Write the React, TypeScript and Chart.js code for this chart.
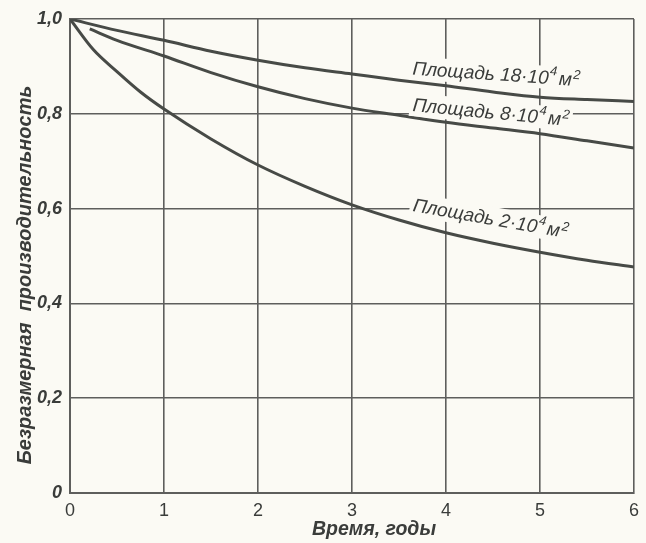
import { useEffect, useRef } from "react";
import { Chart, registerables } from "chart.js";

Chart.register(...registerables);

const years18 = [0, 0.5, 1, 1.5, 2, 2.5, 3, 3.5, 4, 4.5, 5, 5.5, 6];
const values18 = [1.0, 0.976, 0.955, 0.932, 0.913, 0.897, 0.884, 0.871, 0.859, 0.846, 0.835, 0.83, 0.826];

const years8 = [0.21, 0.5, 1, 1.5, 2, 2.5, 3, 3.5, 4, 4.5, 5, 5.5, 6];
const values8 = [0.979, 0.955, 0.922, 0.887, 0.857, 0.832, 0.812, 0.797, 0.782, 0.77, 0.758, 0.743, 0.728];

const years2 = [0, 0.25, 0.5, 0.75, 1, 1.5, 2, 2.5, 3, 3.5, 4, 4.5, 5, 5.5, 6];
const values2 = [1.0, 0.935, 0.889, 0.846, 0.81, 0.747, 0.692, 0.647, 0.608, 0.576, 0.549, 0.527, 0.508, 0.491, 0.477];

const labelMain = ["Площадь 18·10", "Площадь 8·10", "Площадь 2·10"];
const labelExp = ["4", "4", "4"];
const labelUnit = ["м", "м", "м"];
const labelUnitExp = ["2", "2", "2"];
const labelYears = [3.64, 3.64, 3.64];
const labelValues = [0.883, 0.806, 0.595];
const labelAngles = [4, 5.5, 10];

const xTicks = [0, 1, 2, 3, 4, 5, 6];
const yTicks = [0, 0.2, 0.4, 0.6, 0.8, 1.0];

const xTitle = "Время, годы";
const yTitle = "Безразмерная  производительность";

const BG = "#fbfaf4";
const INK = "#474a46";
const GRID = "#5e5e5c";
const TEXT = "#3a3c3a";
const FONT = "'Liberation Sans', 'DejaVu Sans', sans-serif";

function pts(xs: number[], ys: number[]) {
  return xs.map((x, i) => ({ x, y: ys[i] }));
}

const bgPlugin = {
  id: "bg",
  beforeDraw(chart: any) {
    const { ctx, width, height } = chart;
    ctx.save();
    ctx.fillStyle = BG;
    ctx.fillRect(0, 0, width, height);
    ctx.restore();
  },
};

const titlePlugin = {
  id: "titles",
  afterDraw(chart: any) {
    const { ctx, chartArea } = chart;
    ctx.save();
    ctx.fillStyle = TEXT;
    ctx.textAlign = "center";
    ctx.textBaseline = "alphabetic";
    ctx.font = `italic bold 19.5px ${FONT}`;
    ctx.fillText(xTitle, (chartArea.left + chartArea.right) / 2 + 22, chartArea.bottom + 42);
    ctx.translate(chartArea.left - 45, (chartArea.top + chartArea.bottom) / 2 + 19);
    ctx.rotate(-Math.PI / 2);
    ctx.textBaseline = "middle";
    ctx.font = `italic bold 20px ${FONT}`;
    ctx.fillText(yTitle, 0, 0);
    ctx.restore();
  },
};

const labelPlugin = {
  id: "curveLabels",
  afterDatasetsDraw(chart: any) {
    const { ctx, scales } = chart;
    ctx.save();
    labelMain.forEach((txt, i) => {
      const px = scales.x.getPixelForValue(labelYears[i]);
      const py = scales.y.getPixelForValue(labelValues[i]);
      ctx.save();
      ctx.translate(px, py);
      ctx.rotate((labelAngles[i] * Math.PI) / 180);
      const big = `italic 19px ${FONT}`;
      const small = `italic 13px ${FONT}`;
      ctx.font = big;
      const w1 = ctx.measureText(txt).width;
      const wu = ctx.measureText(labelUnit[i]).width;
      ctx.font = small;
      const we = ctx.measureText(labelExp[i]).width;
      const wue = ctx.measureText(labelUnitExp[i]).width;
      const total = w1 + we + 3 + wu + wue + 1;
      ctx.fillStyle = BG;
      ctx.fillRect(-3, -18, total + 6, 23);
      ctx.fillStyle = TEXT;
      ctx.textAlign = "left";
      ctx.textBaseline = "alphabetic";
      let x = 0;
      ctx.font = big;
      ctx.fillText(txt, x, 0);
      x += w1 + 1;
      ctx.font = small;
      ctx.fillText(labelExp[i], x, -9);
      x += we + 2;
      ctx.font = big;
      ctx.fillText(labelUnit[i], x, 0);
      x += wu + 1;
      ctx.font = small;
      ctx.fillText(labelUnitExp[i], x, -7);
      ctx.restore();
    });
    ctx.restore();
  },
};

export default function App() {
  const ref = useRef<HTMLCanvasElement | null>(null);

  useEffect(() => {
    document.body.style.margin = "0";
    const canvas = ref.current;
    if (!canvas) return;
    const lineDs = (data: any) => ({
      data,
      borderColor: INK,
      borderWidth: 3,
      pointRadius: 0,
      fill: false,
      tension: 0.4,
      cubicInterpolationMode: "monotone" as const,
    });
    const chart = new Chart(canvas, {
      type: "line",
      data: {
        datasets: [
          lineDs(pts(years18, values18)),
          lineDs(pts(years8, values8)),
          lineDs(pts(years2, values2)),
        ],
      },
      options: {
        animation: false,
        responsive: false,
        devicePixelRatio: 1,
        layout: { padding: { top: 19, right: 10, left: 0, bottom: 0 } },
        plugins: {
          legend: { display: false },
          tooltip: { enabled: false },
        },
        scales: {
          x: {
            type: "linear",
            min: 0,
            max: 6,
            afterFit(scale: any) {
              scale.height = 50;
            },
            afterBuildTicks(scale: any) {
              scale.ticks = xTicks.map((v) => ({ value: v }));
            },
            grid: { color: GRID, lineWidth: 1.6, drawTicks: false },
            border: { color: GRID, width: 2 },
            ticks: {
              color: TEXT,
              padding: 7,
              font: { family: FONT, size: 18 },
              callback: (v: any) => String(v),
            },
          },
          y: {
            type: "linear",
            min: 0,
            max: 1,
            afterFit(scale: any) {
              scale.width = 70;
            },
            afterBuildTicks(scale: any) {
              scale.ticks = yTicks.map((v) => ({ value: v }));
            },
            grid: { color: GRID, lineWidth: 1.6, drawTicks: false },
            border: { color: GRID, width: 2 },
            ticks: {
              color: TEXT,
              padding: 8,
              font: { family: FONT, size: 18, style: "italic", weight: "bold" },
              callback: (v: any) => (v === 0 ? "0" : Number(v).toFixed(1).replace(".", ",")),
            },
          },
        },
      },
      plugins: [bgPlugin, labelPlugin, titlePlugin],
    });
    return () => chart.destroy();
  }, []);

  return (
    <div style={{ position: "relative", width: 646, height: 543 }}>
      <canvas ref={ref} width={646} height={543} style={{ display: "block", width: 646, height: 543 }} />
    </div>
  );
}
